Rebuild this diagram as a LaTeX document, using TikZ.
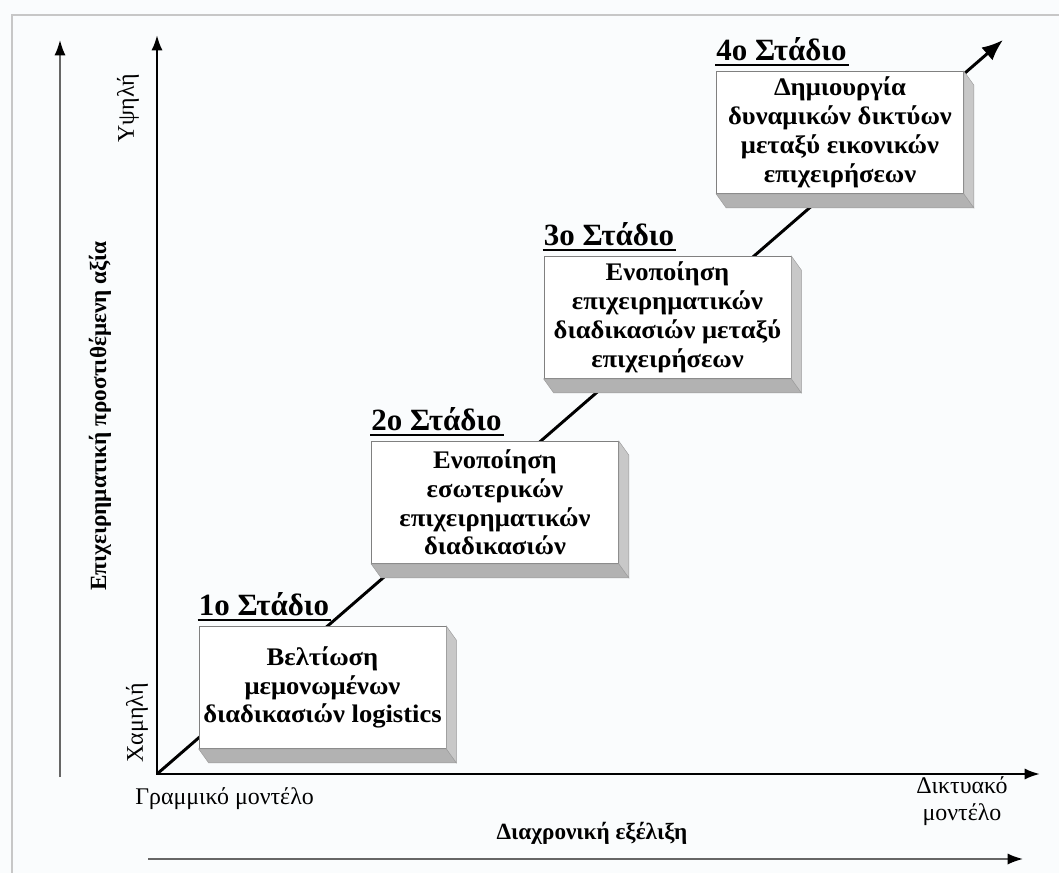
\documentclass[tikz,border=0pt]{standalone}
\usepackage{fontspec}
\setmainfont{Liberation Serif}
\newfontfamily\boxfont[FakeStretch=1.05]{Liberation Serif}
\usepackage{xcolor}
\usepackage{tikz}
\usetikzlibrary{arrows.meta,calc,positioning}
\definecolor{paper}{RGB}{250,252,253}
\definecolor{slabgray}{RGB}{178,178,178}
\definecolor{sidegray}{RGB}{200,200,200}
\tikzset{
  frame/.style={draw=black!22, line width=1.4pt},
  axis/.style={line width=1.7pt, {Latex[length=11pt,width=8pt]}-{Latex[length=11pt,width=8pt]}},
  guide/.style={draw=black!60, line width=1.3pt, -{Latex[length=11pt,width=8pt,color=black]}},
  trend/.style={line width=2.1pt, -{Latex[length=15pt,width=12pt]}},
  stagebox/.style={draw=black!50, line width=0.5pt, fill=white, minimum width=6.175cm, minimum height=3.05cm,
    align=center, inner sep=2pt, font=\boxfont\fontsize{18}{20.5}\selectfont\bfseries},
  slabBottom/.style={fill=slabgray, draw=black!40, line width=0.3pt},
  slabSide/.style={fill=sidegray, draw=black!40, line width=0.3pt},
  stagelabel/.style={inner sep=0pt, font=\fontsize{22}{24}\selectfont\bfseries},
  underline/.style={line width=1.7pt},
  axislabel/.style={inner sep=0pt, font=\fontsize{17}{19}\selectfont},
  axistitle/.style={inner sep=0pt, font=\fontsize{16.5}{19}\selectfont\bfseries}
}
% 3D slab under and beside a stage box
\newcommand{\DrawSlab}[1]{%
  \filldraw[slabBottom] (#1.south west) -- (#1.south east) -- ++(10,14) -- ($(#1.south west)+(10,14)$) -- cycle;
  \filldraw[slabSide] (#1.north east) -- ++(10,14) -- ($(#1.south east)+(10,14)$) -- (#1.south east) -- cycle;
}

\begin{document}
\begin{tikzpicture}[x=0.025cm, y=-0.025cm]
  \useasboundingbox[fill=paper] (0,0) rectangle (1059,873);
  \draw[frame] (12,873) -- (12,15) -- (1059,15);
  % Axes
  \coordinate (O) at (157,774);
  \coordinate (ytop) at (157,35);
  \coordinate (xend) at (1040,774);
  \draw[axis] (ytop) -- (O) -- (xend);
  % Outer guide arrows
  \coordinate (gy0) at (60,777);
  \coordinate (gy1) at (60,40);
  \coordinate (gx0) at (148,859);
  \coordinate (gx1) at (1023,859);
  \draw[guide] (gy0) -- (gy1);
  \draw[guide] (gx0) -- (gx1);
  % Trend line behind the stages
  \coordinate (tip) at (1003,40);
  \draw[trend] (O) -- (tip);
  % Stages
  \foreach \n/\txt in {1/{Βελτίωση\\μεμονωμένων\\διαδικασιών logistics},
                       2/{Ενοποίηση\\εσωτερικών\\επιχειρηματικών\\διαδικασιών},
                       3/{Ενοποίηση\\επιχειρηματικών\\διαδικασιών μεταξύ\\επιχειρήσεων},
                       4/{Δημιουργία\\δυναμικών δικτύων\\μεταξύ εικονικών\\επιχειρήσεων}}{%
    \node[stagebox] (stage\n) at ({322.5+172.5*(\n-1)},{687.5-185*(\n-1)}) {\txt};
    \DrawSlab{stage\n}
    \node[stagelabel, anchor=base west] (label\n) at ($(stage\n.north west)+(0,-11)$) {\n ο Στάδιο};
    \draw[underline] ($(label\n.base west)+(-1,5)$) -- ($(label\n.base east)+(2,5)$);
  }
  % Axis texts
  \node[axislabel, anchor=west] (xlow) at (135,799) {Γραμμικό μοντέλο};
  \node[axislabel, align=center] (xhigh) at (962,801) {Δικτυακό\\μοντέλο};
  \node[axistitle] (xtitle) at (592,833) {Διαχρονική εξέλιξη};
  \node[axislabel, rotate=90] (yhigh) at (128,108) {Υψηλή};
  \node[axislabel, rotate=90] (ylow) at (137,723) {Χαμηλή};
  \node[axistitle, rotate=90] (ytitle) at (100,416) {Επιχειρηματική προστιθέμενη αξία};
\end{tikzpicture}
\end{document}
